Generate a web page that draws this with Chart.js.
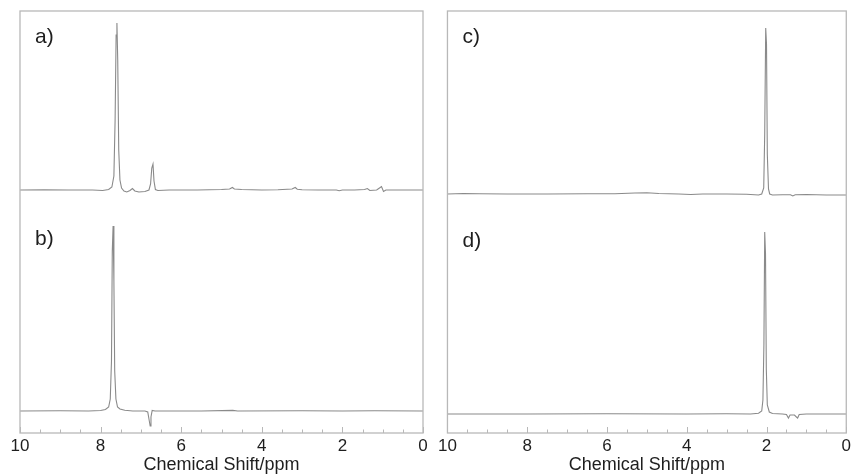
<!DOCTYPE html>
<html lang="en">
<head>
<meta charset="UTF-8">
<title>Chemical Shift spectra</title>
<script src="https://cdn.jsdelivr.net/npm/chart.js@4.4.0/dist/chart.umd.min.js"></script>
<style>
  body { margin: 0; background: #fff; }
  #left { position: absolute; left: 0; top: 0; }
  #right { position: absolute; left: 435px; top: 0; }
</style>
</head>
<body>
<canvas id="left" width="435" height="474"></canvas>
<canvas id="right" width="419" height="474"></canvas>
<script>
// trace a)
const ppmA = [10, 9.4, 8.8, 8.2, 7.95, 7.8, 7.72, 7.67, 7.64, 7.615, 7.595, 7.575, 7.55, 7.52, 7.48, 7.42, 7.35, 7.27, 7.21, 7.15,
              7.05, 6.9, 6.8, 6.76, 6.73, 6.70, 6.675, 6.64, 6.58, 6.3, 5.6, 5.0, 4.8, 4.73, 4.68, 4.5, 4.0, 3.6, 3.25, 3.17,
              3.12, 3.0, 2.6, 2.15, 2.08, 2.0, 1.7, 1.45, 1.38, 1.32, 1.15, 1.08, 1.03, 0.98, 0.92, 0.6, 0];
const intA = [0, 0.3, 0, 0, -0.5, 0.5, 3, 14, 70, 155, 167, 130, 40, 10, 2, -1, -2, -0.5, 1.5, -1,
              -2, -1.5, 0, 6, 22, 26, 9, 0.5, -0.5, 0, 0, 0.5, 1, 2.5, 1, 0.5, 0, 0.3, 1, 2.5,
              0.8, 0.3, 0, 0, -0.8, 0, 0, 0.5, 1.5, -0.5, 0, 2, 3.5, -1.5, 0, 0, 0];
// trace b)
const ppmB = [10, 9.0, 8.3, 8.0, 7.88, 7.8, 7.76, 7.73, 7.71, 7.69, 7.67, 7.65, 7.62, 7.58, 7.52, 7.4, 7.2, 6.9, 6.83, 6.80,
              6.77, 6.75, 6.72, 6.65, 5.5, 4.72, 4.6, 3.0, 2.0, 1.2, 0];
const intB = [0, 0.3, 0, 0.5, 1.5, 4, 12, 50, 160, 185, 130, 40, 12, 4, 2, 0.8, 0, 0, -1, -8,
              -15, -6, 0.5, 0, 0, 0.6, 0, 0.3, 0, 0.3, 0];
// trace c)
const ppmC = [10, 9.6, 9.2, 8.5, 7.5, 6.5, 5.8, 5.3, 5.0, 4.7, 4.2, 3.9, 3.6, 3.0, 2.5, 2.2, 2.12, 2.07, 2.045, 2.02,
              2.0, 1.98, 1.95, 1.92, 1.85, 1.6, 1.4, 1.34, 1.28, 1.0, 0.5, 0];
const intC = [0, 0.5, 0.3, 0, 0, 0.3, 0.3, 1, 1.2, 0.5, 0, -0.5, 0, 0, -0.3, -1, 0, 6, 60, 166,
              150, 40, 5, 0, -1, -0.7, -0.8, -2, -0.8, -0.5, -1, -1];
// trace d)
const ppmD = [10, 8.0, 6.0, 4.0, 3.0, 2.4, 2.2, 2.12, 2.09, 2.065, 2.045, 2.025, 2.005, 1.98, 1.93, 1.85, 1.6, 1.5, 1.45, 1.41,
              1.3, 1.25, 1.22, 1.18, 1.0, 0];
const intD = [0, 0, 0.3, 0, 0.3, 0, 0.8, 3, 14, 70, 182, 160, 45, 9, 2, 0.5, 0, -0.5, -4, -1,
              -1, -3, -4, -0.5, 0, 0];

const shiftTicks = [10, 8, 6, 4, 2, 0];
const panelLabels = ['a)', 'b)', 'c)', 'd)'];

const FONT = "'Liberation Sans', Arial, sans-serif";
const LINE = '#8a8a8a';
const FRAME = '#b8b8b8';
const TEXT = '#1e1e1e';

function points(ppm, vals) {
  return ppm.map((p, i) => ({ x: p, y: vals[i] }));
}

// box around the plot, inward ticks and the panel letters
const frame = {
  id: 'frame',
  afterDraw(chart, args, opts) {
    const ctx = chart.ctx, a = chart.chartArea, xs = chart.scales.x;
    ctx.save();
    ctx.strokeStyle = FRAME;
    ctx.lineWidth = 1.3;
    ctx.strokeRect(a.left, a.top, a.right - a.left, a.bottom - a.top);
    ctx.beginPath();
    for (let v = 0; v <= 10; v += 0.5) {
      const px = Math.round(xs.getPixelForValue(v)) + 0.5;
      const len = v % 2 === 0 ? 6 : 3.5;
      ctx.moveTo(px, a.bottom);
      ctx.lineTo(px, a.bottom - len);
    }
    ctx.lineWidth = 1;
    ctx.stroke();
    ctx.fillStyle = TEXT;
    ctx.font = '21px ' + FONT;
    ctx.fillText(opts.top, a.left + 15, 43);
    ctx.fillText(opts.bottom, a.left + 15, opts.bottomY);
    ctx.restore();
  }
};

function trace(data, axis) {
  return {
    data: data, yAxisID: axis, borderColor: LINE, borderWidth: 1.1,
    pointRadius: 0, tension: 0, fill: false
  };
}

function makePanel(id, upper, lower, yUp, yLow, pad, labels, bottomY) {
  return new Chart(document.getElementById(id), {
    type: 'line',
    data: { datasets: [trace(upper, 'yUp'), trace(lower, 'yLow')] },
    options: {
      responsive: false,
      animation: false,
      devicePixelRatio: 1,
      layout: { padding: pad },
      plugins: {
        legend: { display: false },
        tooltip: { enabled: false },
        frame: { top: labels[0], bottom: labels[1], bottomY: bottomY }
      },
      scales: {
        x: {
          type: 'linear', reverse: true, min: 0, max: 10,
          afterBuildTicks: s => { s.ticks = shiftTicks.map(v => ({ value: v })); },
          grid: { display: false, drawTicks: false },
          border: { display: false },
          ticks: { color: TEXT, font: { family: FONT, size: 17 }, padding: 3, maxRotation: 0, autoSkip: false },
          title: { display: true, text: 'Chemical Shift/ppm', color: TEXT, font: { family: FONT, size: 18, lineHeight: 1 }, padding: 0 },
          afterFit: s => { s.height = 41; }
        },
        yUp: { type: 'linear', display: false, min: yUp[0], max: yUp[1] },
        yLow: { type: 'linear', display: false, min: yLow[0], max: yLow[1] }
      }
    },
    plugins: [frame]
  });
}

makePanel('left', points(ppmA, intA), points(ppmB, intB),
  [-243, 179], [-22, 400], { left: 20, right: 12, top: 11, bottom: 0 },
  panelLabels.slice(0, 2), 245);
makePanel('right', points(ppmC, intC), points(ppmD, intD),
  [-239, 183], [-19, 403], { left: 12, right: 5, top: 11, bottom: 0 },
  panelLabels.slice(2, 4), 247);
</script>
</body>
</html>
